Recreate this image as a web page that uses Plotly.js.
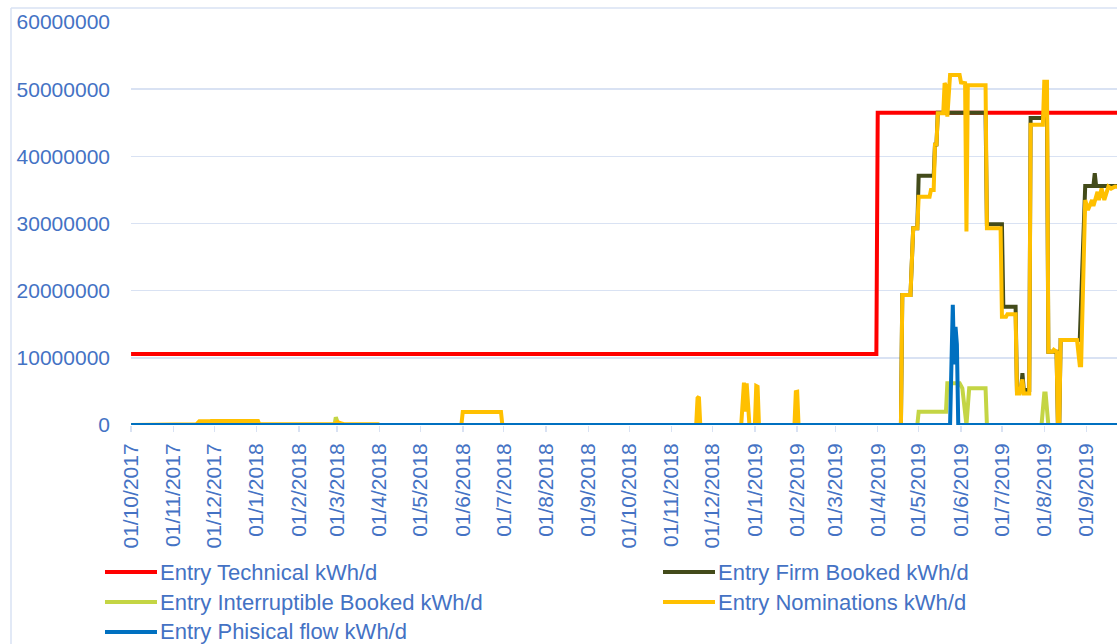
<!DOCTYPE html>
<html>
<head>
<meta charset="utf-8">
<script src="https://cdn.plot.ly/plotly-3.0.1.min.js"></script>
<style>
  html, body { margin: 0; padding: 0; background: #ffffff; }
  #chart { width: 1117px; height: 644px; }
</style>
</head>
<body>
<div id="chart"></div>
<script>
// ---------------- DATA ----------------
const seriesNames = [
  'Entry Technical kWh/d',
  'Entry Firm Booked kWh/d',
  'Entry Interruptible Booked kWh/d',
  'Entry Nominations kWh/d',
  'Entry Phisical flow kWh/d'
];

const techDates  = ['2017-10-01', '2019-03-31', '2019-04-01', '2019-09-30'];
const techValues = [10560000, 10560000, 46500000, 46500000];

const firmDates = ['2017-10-01','2019-04-18','2019-04-19','2019-04-25','2019-04-27','2019-04-30','2019-05-01','2019-05-12','2019-05-13','2019-05-14','2019-05-15','2019-06-19','2019-06-20','2019-07-01','2019-07-02','2019-07-11','2019-07-12','2019-07-15','2019-07-16','2019-07-17','2019-07-21','2019-07-22','2019-07-31','2019-08-01','2019-08-03','2019-08-04','2019-08-10','2019-08-11','2019-08-12','2019-08-13','2019-08-27','2019-08-31','2019-09-06','2019-09-07','2019-09-08','2019-09-30'];
const firmValues = [0,0,19350000,19350000,29300000,29300000,37100000,37100000,42000000,41500000,46500000,46500000,29900000,29900000,17600000,17600000,5200000,5200000,7700000,5200000,5200000,45700000,45700000,46500000,46500000,10900000,10900000,0,0,12650000,12650000,35600000,35600000,37500000,35600000,35600000];

const intDates = ['2017-10-01','2018-02-27','2018-02-28','2018-03-02','2019-04-30','2019-05-01','2019-05-21','2019-05-22','2019-05-31','2019-06-02','2019-06-05','2019-06-07','2019-06-19','2019-06-20','2019-07-30','2019-08-01','2019-08-02','2019-08-04','2019-09-30'];
const intValues = [0,0,1150000,0,0,1980000,1980000,6200000,6200000,5460000,0,5460000,5460000,0,0,4700000,4700000,0,0];

const nomDates = ['2017-10-01','2017-10-27','2017-10-28','2017-11-18','2017-11-20','2017-11-27','2017-11-28','2017-11-29','2018-01-02','2018-01-03','2018-02-27','2018-03-01','2018-03-04','2018-03-06','2018-03-31','2018-04-01','2018-05-31','2018-06-01','2018-06-29','2018-06-30','2018-11-19','2018-11-20','2018-11-21','2018-11-22','2018-12-22','2018-12-24','2018-12-25','2018-12-26','2018-12-28','2019-01-01','2019-01-02','2019-01-03','2019-01-04','2019-01-30','2019-01-31','2019-02-01','2019-02-02','2019-04-18','2019-04-19','2019-04-25','2019-04-27','2019-04-30','2019-05-01','2019-05-09','2019-05-10','2019-05-12','2019-05-13','2019-05-14','2019-05-15','2019-05-19','2019-05-20','2019-05-21','2019-05-22','2019-05-24','2019-05-31','2019-06-01','2019-06-04','2019-06-05','2019-06-06','2019-06-19','2019-06-20','2019-06-30','2019-07-01','2019-07-04','2019-07-05','2019-07-11','2019-07-12','2019-07-14','2019-07-16','2019-07-17','2019-07-21','2019-07-22','2019-07-31','2019-08-01','2019-08-03','2019-08-04','2019-08-07','2019-08-08','2019-08-10','2019-08-11','2019-08-12','2019-08-13','2019-08-25','2019-08-27','2019-08-28','2019-08-31','2019-09-02','2019-09-05','2019-09-06','2019-09-09','2019-09-10','2019-09-12','2019-09-14','2019-09-17','2019-09-19','2019-09-22','2019-09-30'];
const nomValues = [0,0,120000,120000,550000,550000,150000,600000,600000,120000,120000,450000,250000,120000,120000,0,0,1950000,1950000,0,0,4000000,4200000,0,0,6300000,2000000,6200000,0,0,5800000,5700000,0,0,4900000,4950000,0,0,19350000,19350000,29300000,29300000,34000000,34000000,35000000,35000000,42000000,41500000,46400000,46400000,50900000,50500000,45900000,52100000,52100000,51000000,50900000,28800000,50600000,50600000,29300000,29300000,16100000,16100000,16500000,16500000,4700000,4700000,6800000,4700000,4700000,44700000,44700000,51100000,51100000,10900000,10900000,11200000,10900000,0,0,12650000,12650000,8900000,8900000,33500000,32000000,33500000,32600000,34700000,33500000,35200000,33500000,35500000,35200000,35500000,35400000];

const flowDates  = ['2017-10-01','2019-05-24','2019-05-26','2019-05-27','2019-05-28','2019-05-29','2019-05-30','2019-09-30'];
const flowValues = [0,0,17900000,9000000,14600000,12000000,0,0];

const yTickValues = [0, 10000000, 20000000, 30000000, 40000000, 50000000, 60000000];

// ---------------- STYLE ----------------
const colors = ['#FF0000', '#434B1A', '#C4D544', '#FFC000', '#0070C0'];
const textColor = '#4472C4';
const gridColor = '#D9E2F3';
const fontFamily = '"Liberation Sans", Arial, sans-serif';

const seriesData = [
  [techDates, techValues],
  [firmDates, firmValues],
  [intDates, intValues],
  [nomDates, nomValues],
  [flowDates, flowValues]
];

const traces = seriesData.map((d, i) => ({
  type: 'scatter',
  mode: 'lines',
  x: d[0],
  y: d[1],
  name: seriesNames[i],
  line: { color: colors[i], width: 4 },
  showlegend: false,
  hoverinfo: 'x+y+name'
}));

// plot area in pixels
const W = 1117, H = 644;
const L = 131, R = 0, T = 22, B = 219;
const pw = W - L - R, ph = H - T - B;
const px = x => (x - L) / pw;
const py = y => (H - B - y) / ph;

// manual legend (2 columns, Excel-like)
const legendPos = [
  { lx: 105, ly: 572 },
  { lx: 663, ly: 572 },
  { lx: 105, ly: 602 },
  { lx: 663, ly: 602 },
  { lx: 105, ly: 632 }
];
const shapes = [];
const annotations = [];
legendPos.forEach((p, i) => {
  shapes.push({
    type: 'line', xref: 'paper', yref: 'paper',
    x0: px(p.lx), x1: px(p.lx + 52), y0: py(p.ly), y1: py(p.ly),
    line: { color: colors[i], width: 4 }
  });
  annotations.push({
    xref: 'paper', yref: 'paper', x: px(p.lx + 53), y: py(p.ly),
    xanchor: 'left', yanchor: 'middle', showarrow: false,
    text: seriesNames[i],
    font: { family: fontFamily, size: 22, color: textColor }
  });
});
// chart area frame (left + top)
shapes.push({ type: 'line', xref: 'paper', yref: 'paper',
  x0: px(11), x1: px(11), y0: py(8), y1: py(H + 5), line: { color: gridColor, width: 1.5 } });
shapes.push({ type: 'line', xref: 'paper', yref: 'paper',
  x0: px(11), x1: px(W + 5), y0: py(8), y1: py(8), line: { color: gridColor, width: 1.5 } });

const layout = {
  width: W, height: H,
  margin: { l: L, r: R, t: T, b: B, pad: 0 },
  paper_bgcolor: '#ffffff',
  plot_bgcolor: '#ffffff',
  font: { family: fontFamily, color: textColor, size: 21 },
  showlegend: false,
  xaxis: {
    type: 'date',
    range: ['2017-09-30 23:00', '2019-09-23 07:00'],
    tick0: '2017-10-01',
    dtick: 'M1',
    tickformat: '%d/%-m/%Y',
    tickangle: -90,
    ticks: 'outside',
    ticklen: 6,
    tickwidth: 1.5,
    tickcolor: gridColor,
    ticklabelstandoff: 3,
    showgrid: false,
    zeroline: false,
    showline: false,
    tickfont: { family: fontFamily, size: 21, color: textColor }
  },
  yaxis: {
    range: [0, 60000000],
    tickvals: yTickValues,
    ticktext: yTickValues.map(v => String(v)),
    showgrid: true,
    gridcolor: gridColor,
    gridwidth: 1.5,
    zeroline: false,
    showline: false,
    ticks: '',
    ticklabelstandoff: 20,
    tickfont: { family: fontFamily, size: 21, color: textColor }
  },
  shapes: shapes,
  annotations: annotations
};

Plotly.newPlot('chart', traces, layout, { displayModeBar: false, staticPlot: true });
</script>
</body>
</html>
